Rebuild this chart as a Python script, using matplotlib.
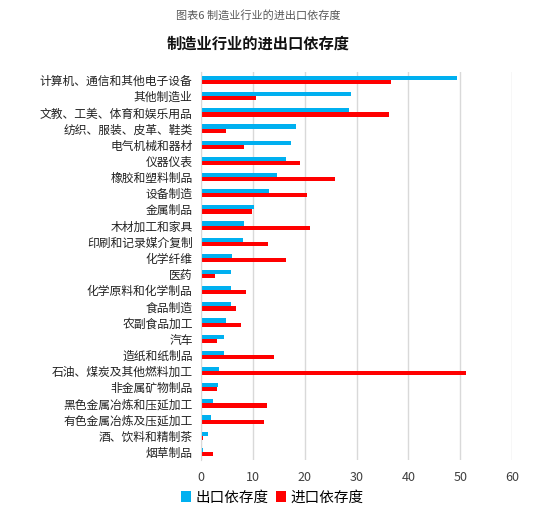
import numpy as np
import matplotlib
matplotlib.use('Agg')
from matplotlib import pyplot as plt

plt.rcParams['font.family'] = ['Noto Sans CJK SC', 'DejaVu Sans']

industries = ['计算机、通信和其他电子设备', '其他制造业', '文教、工美、体育和娱乐用品',
              '纺织、服装、皮革、鞋类', '电气机械和器材', '仪器仪表', '橡胶和塑料制品',
              '设备制造', '金属制品', '木材加工和家具', '印刷和记录媒介复制', '化学纤维',
              '医药', '化学原料和化学制品', '食品制造', '农副食品加工', '汽车',
              '造纸和纸制品', '石油、煤炭及其他燃料加工', '非金属矿物制品',
              '黑色金属冶炼和压延加工', '有色金属冶炼及压延加工', '酒、饮料和精制茶', '烟草制品']
export_dep = [49.3, 29.0, 28.5, 18.4, 17.4, 16.4, 14.6, 13.1, 10.3, 8.3, 8.1, 6.0,
              5.8, 5.7, 5.7, 4.9, 4.5, 4.4, 3.4, 3.2, 2.4, 1.9, 1.4, 0.3]
import_dep = [36.7, 10.7, 36.2, 4.8, 8.2, 19.0, 25.8, 20.4, 9.8, 21.1, 12.9, 16.3,
              2.7, 8.6, 6.7, 7.8, 3.1, 14.1, 51.1, 3.0, 12.7, 12.1, 0.3, 2.3]

fig = plt.figure(figsize=(5.5, 5.13), dpi=100)
ax = fig.add_axes([0.3655, 0.1033, 0.5655, 0.7563])

y = np.arange(len(industries))
h = 0.26
ax.barh(y - h / 2, export_dep, height=h, color='#00B0F0', label='出口依存度')
ax.barh(y + h / 2, import_dep, height=h, color='#FF0000', label='进口依存度')

ax.set_ylim(len(industries) - 0.5, -0.5)
ax.set_yticks(y)
ax.set_yticklabels(industries, fontsize=8.5, color='#222222')
ax.set_xlim(0, 60)
ax.set_xticks(range(0, 61, 10))
ax.tick_params(axis='x', labelsize=9, colors='#404040', length=0, pad=8)
ax.tick_params(axis='y', length=0, pad=6)
ax.grid(axis='x', color='#d9d9d9', linewidth=1)
ax.set_axisbelow(True)
for s in ['top', 'right', 'bottom']:
    ax.spines[s].set_visible(False)
ax.spines['left'].set_color('#d9d9d9')

fig.text(0.47, 0.97, '图表6 制造业行业的进出口依存度', ha='center', va='center',
         fontsize=8, color='#595959')
fig.text(0.47, 0.915, '制造业行业的进出口依存度', ha='center', va='center',
         fontsize=11, fontweight='bold', color='#111111')

fig.legend(loc='center', bbox_to_anchor=(0.495, 0.03), ncol=2, frameon=False,
           fontsize=10.5, handlelength=0.7, handleheight=0.7, handletextpad=0.3,
           columnspacing=0.5)

fig.savefig('out.png', dpi=100)
